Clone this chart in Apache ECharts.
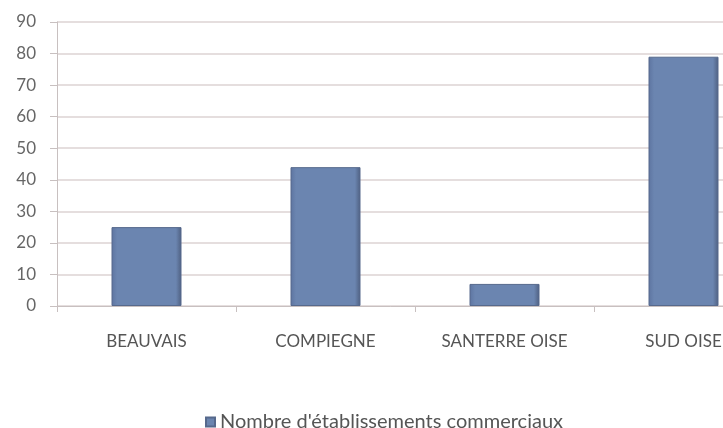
<!DOCTYPE html>
<html><head><meta charset="utf-8">
<script src="https://cdn.jsdelivr.net/npm/echarts@6/dist/echarts.min.js"></script>
<style>html,body{margin:0;padding:0;background:#fff}#c{width:723px;height:428px}</style>
</head><body><div id="c"></div>
<script>
var categories = ['BEAUVAIS', 'COMPIEGNE', 'SANTERRE OISE', 'SUD OISE'];
var values = [25, 44, 7, 79];
var seriesName = "Nombre d'établissements commerciaux";
var yTicks = {min: 0, max: 90, interval: 10};

var chart = echarts.init(document.getElementById('c'));
chart.setOption({
  animation: false,
  backgroundColor: '#fff',
  grid: {left: 57, top: 22, right: -50, bottom: 122, containLabel: false, outerBoundsMode: 'none'},
  xAxis: {
    type: 'category', data: categories,
    axisLine: {lineStyle: {color: '#c8c0c0'}},
    axisTick: {show: true, length: 6, lineStyle: {color: '#c8c0c0'}},
    axisLabel: {color: '#555', fontFamily: 'Lato', fontSize: 17, margin: 27}
  },
  yAxis: {
    type: 'value', min: yTicks.min, max: yTicks.max, interval: yTicks.interval,
    axisLine: {show: true, lineStyle: {color: '#c8c0c0'}},
    axisTick: {show: true, length: 7, lineStyle: {color: '#c8c0c0'}},
    axisLabel: {color: '#666', fontFamily: 'Lato', fontSize: 17, margin: 21},
    splitLine: {lineStyle: {color: '#ddd3d3', width: 1.5}}
  },
  legend: {
    top: 407, left: 200,
    itemWidth: 9, itemHeight: 9, itemGap: 8,
    icon: 'rect',
    textStyle: {color: '#555', fontFamily: 'Lato', fontSize: 20},
    data: [seriesName]
  },
  series: [{
    name: seriesName, type: 'bar', data: values, barWidth: 70,
    itemStyle: {
      color: {type: 'linear', x: 0, y: 0, x2: 1, y2: 0, colorStops: [
        {offset: 0, color: '#5d74a0'}, {offset: 0.08, color: '#6b85b0'},
        {offset: 0.92, color: '#6b85b0'}, {offset: 1, color: '#4e5f80'}]},
      borderColor: '#56698c', borderWidth: 1
    }
  }]
});
</script></body></html>
